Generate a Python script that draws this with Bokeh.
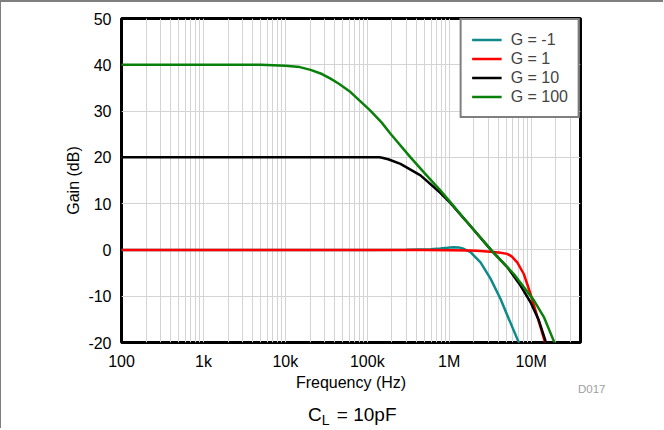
from bokeh.plotting import figure
from bokeh.models import (Range1d, FixedTicker, CustomJSTickFormatter, Div)
from bokeh.layouts import column
from bokeh.embed import file_html
from bokeh.resources import INLINE

# ---- data ----
# G = -1
f_gm1 = [100, 1e5, 3e5, 5.9e5, 7.8e5, 9.5e5, 1.13e6, 1.3e6, 1.5e6, 1.82e6, 2.41e6, 3.19e6, 4.23e6, 5.34e6, 6.95e6, 7.5e6]
g_gm1 = [0, 0, 0.05, 0.15, 0.3, 0.45, 0.6, 0.55, 0.25, -0.5, -2.7, -6.2, -10.6, -14.9, -19.7, -21]
# G = 1
f_g1 = [100, 1e5, 5e5, 1e6, 1.82e6, 2.41e6, 3.47e6, 4.23e6, 5.1e6, 5.78e6, 6.76e6, 8.13e6, 9.82e6, 11.3e6, 13e6, 14.6e6, 15.5e6]
g_g1 = [0, 0, 0, -0.05, -0.15, -0.25, -0.45, -0.6, -0.85, -1.4, -2.7, -5.2, -9.5, -13.1, -16.7, -19.7, -21.5]
# G = 10
f_g10 = [100, 1e4, 1e5, 1.4e5, 1.52e5, 1.8e5, 2.54e5, 4.46e5, 7.83e5, 1e6, 1.58e6, 3.35e6, 5.1e6, 7.41e6, 9.82e6, 12.4e6, 15e6, 16e6]
g_g10 = [20, 20, 20, 20, 19.9, 19.6, 18.6, 16.1, 12.3, 10.4, 6.4, -0.3, -3.7, -7.7, -11.3, -15.2, -19.7, -21]
# G = 100
f_g100 = [100, 1e3, 5e3, 1e4, 1.5e4, 2.03e4, 2.8e4, 3.56e4, 4.5e4, 6.24e4, 8e4, 1.09e5, 1.5e5, 1.92e5, 3.37e5, 5e5, 7.83e5, 1e6, 1.58e6, 3.35e6, 6.14e6, 10.8e6, 14.3e6, 18.9e6, 20e6]
g_g100 = [40, 40, 40, 39.8, 39.5, 38.9, 38.0, 37.0, 35.9, 34.1, 32.3, 30.1, 27.5, 25.1, 20.0, 16.6, 12.8, 10.6, 6.4, -0.3, -5.2, -10.9, -14.5, -19.7, -20.5]

series_labels = ["G = -1", "G = 1", "G = 10", "G = 100"]
series_colors = ["#0f8a8a", "#ff0000", "#000000", "#0a800a"]

x_tick_values = [100, 1e3, 1e4, 1e5, 1e6, 1e7]
x_tick_labels = ["100", "1k", "10k", "100k", "1M", "10M"]
y_tick_values = [-20, -10, 0, 10, 20, 30, 40, 50]

FONT = "Liberation Sans"
BORDER = "#7f7f7f"

p = figure(width=663, height=398, x_axis_type="log",
           x_range=Range1d(100, 4e7), y_range=Range1d(-20, 50),
           output_backend="svg", toolbar_location=None,
           min_border_left=120, min_border_right=84,
           min_border_top=16, min_border_bottom=58,
           background_fill_color="white", border_fill_color="white",
           styles={"border-top": "2px solid " + BORDER, "border-left": "1px solid " + BORDER})

p.outline_line_color = "black"
p.outline_line_width = 3

minor = [m * 10 ** d for d in range(2, 8) for m in range(2, 10) if m * 10 ** d <= 4e7]
xt = FixedTicker(ticks=x_tick_values, minor_ticks=minor)
yt = FixedTicker(ticks=y_tick_values)
p.xaxis.ticker = xt
p.yaxis.ticker = yt
p.xgrid.ticker = xt
p.ygrid.ticker = yt
p.xaxis.formatter = CustomJSTickFormatter(args=dict(vals=x_tick_values, labs=x_tick_labels), code="""
const i = vals.findIndex(v => Math.abs(Math.log10(v) - Math.log10(tick)) < 1e-6);
return i >= 0 ? labs[i] : "";
""")
p.yaxis.formatter = CustomJSTickFormatter(code="return tick.toFixed(0);")

for ax in (p.xaxis[0], p.yaxis[0]):
    ax.axis_line_color = None
    ax.major_tick_line_color = None
    ax.minor_tick_line_color = None
    ax.major_label_text_font = FONT
    ax.major_label_text_font_size = "16px"
    ax.major_label_text_color = "black"
    ax.axis_label_text_font = FONT
    ax.axis_label_text_font_size = "16px"
    ax.axis_label_text_font_style = "normal"
    ax.axis_label_text_color = "black"

p.xaxis.axis_label = "Frequency (Hz)"
p.yaxis.axis_label = "Gain (dB)"
p.xaxis.major_label_standoff = 4
p.yaxis.major_label_standoff = 4
p.xaxis.axis_label_standoff = 1
p.yaxis.axis_label_standoff = 3

p.xgrid.grid_line_color = "#d4d4d4"
p.xgrid.minor_grid_line_color = "#d4d4d4"
p.ygrid.grid_line_color = "#d4d4d4"
p.xgrid.grid_line_width = 1
p.ygrid.grid_line_width = 1

data = [(f_gm1, g_gm1), (f_g1, g_g1), (f_g10, g_g10), (f_g100, g_g100)]
for (fx, gy), lab, col in zip(data, series_labels, series_colors):
    p.line(fx, gy, line_color=col, line_width=2.5, legend_label=lab)

lg = p.legend[0]
lg.location = "top_right"
lg.margin = 0
lg.padding = 10
lg.spacing = 0
lg.glyph_width = 30
lg.glyph_height = 19
lg.label_height = 19
lg.label_standoff = 9
lg.label_text_font = FONT
lg.label_text_font_size = "16px"
lg.label_text_baseline = "middle"
lg.border_line_color = "black"
lg.border_line_width = 2
lg.background_fill_alpha = 1.0

# figure id and caption under the chart (Div pulled up over the plot's bottom border)
caption_html = (
    "<div style=\"position:relative;width:662px;height:48px;font-family:'Liberation Sans';\">"
    "<span style=\"position:absolute;left:577px;top:4px;font-size:11.5px;line-height:11px;"
    "color:#a0a0a0;white-space:nowrap\">D017</span>"
    "<span style=\"position:absolute;left:307px;top:25px;font-size:19px;line-height:19px;"
    "color:#000;white-space:nowrap\">C<sub style=\"font-size:14px;line-height:0;"
    "vertical-align:-4px;margin-right:2px\">L</sub> = 10pF</span>"
    "</div>"
)
caption = Div(width=663, height=48, margin=(-18, 0, 0, 0),
              styles={"border-left": "1px solid " + BORDER},
              text=caption_html)

layout = column(p, caption, spacing=0)

open("out.html", "w").write(file_html(layout, INLINE))
